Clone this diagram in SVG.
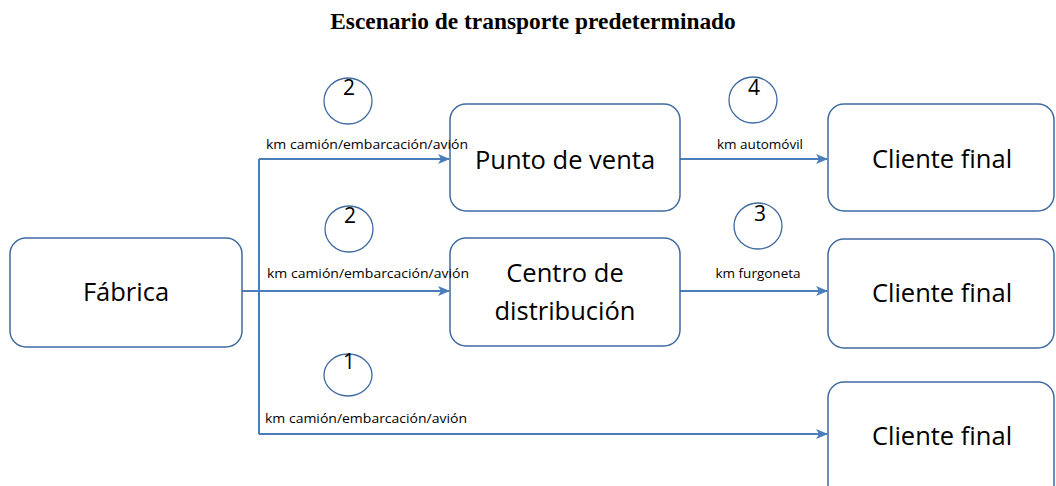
<svg xmlns="http://www.w3.org/2000/svg" width="1056" height="486" viewBox="0 0 1056 486">
<defs>
<marker id="arr" markerWidth="12" markerHeight="12" refX="11" refY="6" orient="auto" markerUnits="userSpaceOnUse">
<path d="M0,1 L12,6 L0,11 L3,6 Z" fill="#4a7ebb"/>
</marker>
<style>
.box{fill:#fff;stroke:#3f6aa0;stroke-width:1.5}
.node{font-family:"Open Sans","Liberation Sans",sans-serif;font-size:25.5px;fill:#000;text-anchor:middle}
.lbl{font-family:"Open Sans","Liberation Sans",sans-serif;font-size:13.5px;fill:#000}
.num{font-family:"Open Sans","Liberation Sans",sans-serif;font-size:21px;fill:#000;text-anchor:middle}
.ring{fill:none;stroke:#3f6aa0;stroke-width:1.3}
.con{fill:none;stroke:#4a7ebb;stroke-width:2}
.title{font-family:"Liberation Serif",serif;font-weight:bold;font-size:23.4px;text-anchor:middle;fill:#000}
</style>
</defs>
<rect width="1056" height="486" fill="#fff"/>
<text class="title" x="533" y="29">Escenario de transporte predeterminado</text>

<g id="connectors">
<path class="con" d="M259,159 V434"/>
<path class="con" d="M259,159 H449" marker-end="url(#arr)"/>
<path class="con" d="M242,291 H449" marker-end="url(#arr)"/>
<path class="con" d="M259,434 H827" marker-end="url(#arr)"/>
<path class="con" d="M680,159 H827" marker-end="url(#arr)"/>
<path class="con" d="M680,291 H827" marker-end="url(#arr)"/>
</g>

<g id="markers">
<ellipse class="ring" cx="348" cy="101" rx="24" ry="23"/>
<text class="num" x="349" y="95">2</text>
<ellipse class="ring" cx="349" cy="229" rx="24" ry="23"/>
<text class="num" x="350" y="223">2</text>
<ellipse class="ring" cx="348" cy="375" rx="24" ry="21"/>
<text class="num" x="349" y="369">1</text>
<ellipse class="ring" cx="753" cy="100" rx="24" ry="23"/>
<text class="num" x="754" y="95">4</text>
<ellipse class="ring" cx="758" cy="226" rx="24" ry="23"/>
<text class="num" x="760" y="221">3</text>
</g>

<g id="fabrica">
<rect class="box" x="10" y="238" width="232" height="109" rx="16"/>
<text class="node" x="126" y="301">Fábrica</text>
</g>
<g id="punto-venta">
<rect class="box" x="450" y="104" width="230" height="107" rx="16"/>
<text class="node" x="565" y="169">Punto de venta</text>
</g>
<g id="centro-distribucion">
<rect class="box" x="450" y="238" width="230" height="108" rx="16"/>
<text class="node" x="565" y="282">Centro de</text>
<text class="node" x="565" y="320">distribución</text>
</g>
<g id="cliente-1">
<rect class="box" x="828" y="104" width="226" height="107" rx="16"/>
<text class="node" x="942" y="168">Cliente final</text>
</g>
<g id="cliente-2">
<rect class="box" x="828" y="239" width="226" height="109" rx="16"/>
<text class="node" x="942" y="302">Cliente final</text>
</g>
<g id="cliente-3">
<rect class="box" x="828" y="382" width="226" height="120" rx="16"/>
<text class="node" x="942" y="445">Cliente final</text>
</g>

<g id="connector-labels">
<text class="lbl" x="266" y="149" textLength="202" lengthAdjust="spacingAndGlyphs">km camión/embarcación/avión</text>
<text class="lbl" x="267" y="278" textLength="202" lengthAdjust="spacingAndGlyphs">km camión/embarcación/avión</text>
<text class="lbl" x="265" y="423" textLength="202" lengthAdjust="spacingAndGlyphs">km camión/embarcación/avión</text>
<text class="lbl" x="760" y="149" text-anchor="middle">km automóvil</text>
<text class="lbl" x="758" y="278" text-anchor="middle">km furgoneta</text>
</g>
</svg>
